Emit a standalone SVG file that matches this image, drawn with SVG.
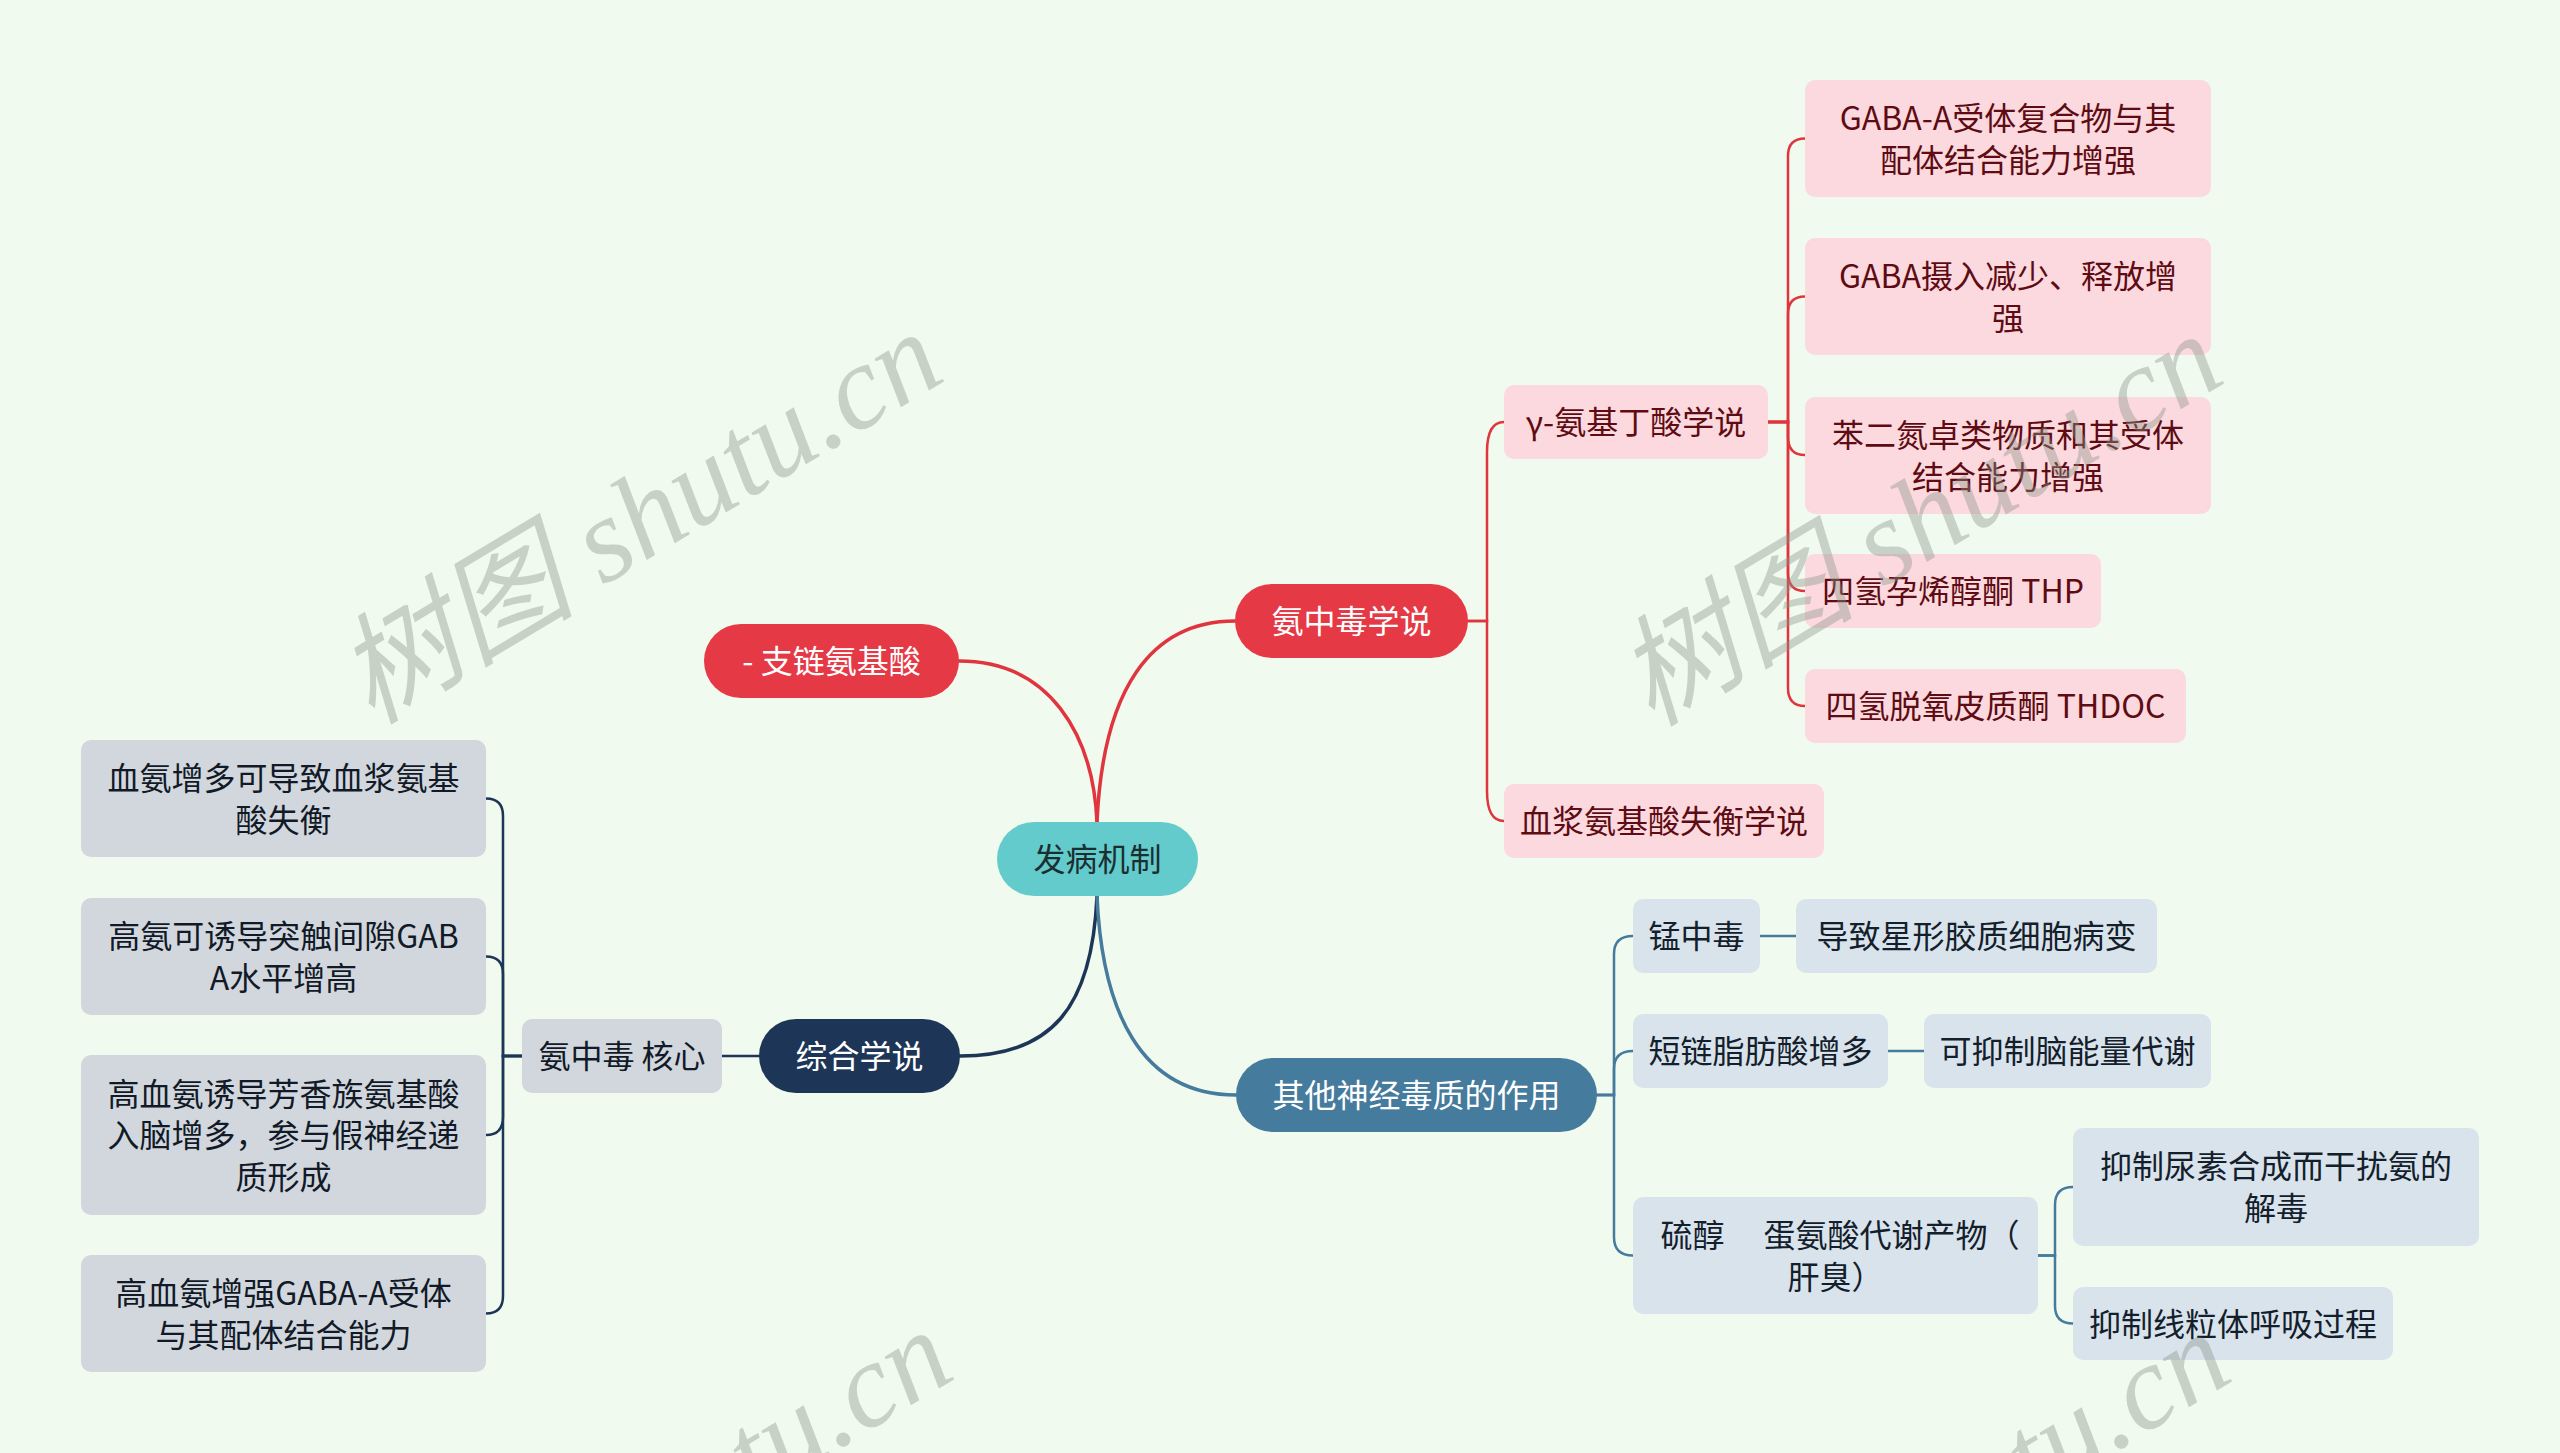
<svg xmlns="http://www.w3.org/2000/svg" width="2560" height="1453" viewBox="0 0 2560 1453">
<style>
text{font-family:"Noto Sans CJK SC","Microsoft YaHei",sans-serif;font-size:32px;text-anchor:middle}
.main rect{rx:37px;ry:37px}
.red rect{fill:#e63946}.red text{fill:#ffffff}
.root rect{fill:#63cbcc}.root text{fill:#1c2f30}
.navy rect{fill:#1d3557}.navy text{fill:#ffffff}
.steel rect{fill:#457b9d}.steel text{fill:#ffffff}
.sub rect{rx:10px;ry:10px}
.pink rect{fill:#fbd9de}.pink text{fill:#5e0b13}
.gray rect{fill:#d2d7de}.gray text{fill:#111a26}
.blue rect{fill:#d9e3eb}.blue text{fill:#13202b}
.lk{fill:none;stroke-linecap:round}
.lr{stroke:#e0353f}.ln{stroke:#1d3557}.ls{stroke:#457b9d}
.w1{stroke-width:3.5}.w2{stroke-width:2.5}
.wm{font-family:"Liberation Serif","Noto Sans CJK SC",serif;font-size:120px;fill:#8a9488;fill-opacity:0.4;font-style:italic}
</style>
<rect width="2560" height="1453" fill="#f1faee"/>
<g id="connectors" class="lk">
<path class="lr w1" d="M1097,822 C1103,690 1150,621 1235,621"/>
<path class="lr w1" d="M959,661 C1050,661 1093,735 1097,822"/>
<path class="ln w1" d="M1097,896 C1092,1010 1050,1056 960,1056"/>
<path class="ls w1" d="M1097,896 C1102,1010 1140,1095 1236,1095"/>
<path class="lr w2" d="M1468,621 H1487 V452 Q1487,422 1504,422"/>
<path class="lr w2" d="M1468,621 H1487 V791 Q1487,821 1504,821"/>
<path class="lr w2" d="M1768,422 H1788 V156 Q1788,138.5 1805,138.5"/>
<path class="lr w2" d="M1768,422 H1788 V314 Q1788,296.5 1805,296.5"/>
<path class="lr w2" d="M1768,422 H1788 V437 Q1788,455 1805,455"/>
<path class="lr w2" d="M1768,422 H1788 V573 Q1788,591 1805,591"/>
<path class="lr w2" d="M1768,422 H1788 V688 Q1788,706 1805,706"/>
<path class="ln w2" d="M759,1056 H722"/>
<path class="ln w2" d="M522,1056 H503 V816 Q503,798.5 486,798.5"/>
<path class="ln w2" d="M522,1056 H503 V974 Q503,956.5 486,956.5"/>
<path class="ln w2" d="M522,1056 H503 V1117 Q503,1135 486,1135"/>
<path class="ln w2" d="M522,1056 H503 V1296 Q503,1313.5 486,1313.5"/>
<path class="ls w2" d="M1597,1095 H1614 V954 Q1614,936 1633,936"/>
<path class="ls w2" d="M1597,1095 H1614 V1069 Q1614,1051 1633,1051"/>
<path class="ls w2" d="M1597,1095 H1614 V1237 Q1614,1255.5 1633,1255.5"/>
<path class="ls w2" d="M1760,936 H1796"/>
<path class="ls w2" d="M1888,1051 H1924"/>
<path class="ls w2" d="M2038,1255.5 H2055 V1205 Q2055,1187 2073,1187"/>
<path class="ls w2" d="M2038,1255.5 H2055 V1306 Q2055,1323.5 2073,1323.5"/>
</g>
<g id="root" class="main root"><rect x="997" y="822" width="201" height="74"/><text x="1097.5" y="871">发病机制</text></g>
<g id="n-zhilian" class="main red"><rect x="704" y="624" width="255" height="74"/><text x="831.5" y="673">- 支链氨基酸</text></g>
<g id="n-anzhongdu" class="main red"><rect x="1235" y="584" width="233" height="74"/><text x="1351.5" y="633">氨中毒学说</text></g>
<g id="n-zonghe" class="main navy"><rect x="759" y="1019" width="201" height="74"/><text x="859.5" y="1068">综合学说</text></g>
<g id="n-qita" class="main steel"><rect x="1236" y="1058" width="361" height="74"/><text x="1416.5" y="1107">其他神经毒质的作用</text></g>
<g id="p-gaba" class="sub pink"><rect x="1504" y="385" width="264" height="74"/><text x="1636" y="434">γ-氨基丁酸学说</text></g>
<g id="p-xuejiang" class="sub pink"><rect x="1504" y="784" width="320" height="74"/><text x="1664" y="833">血浆氨基酸失衡学说</text></g>
<g id="p-1" class="sub pink"><rect x="1805" y="80" width="406" height="117"/><text x="2008" y="129.5">GABA-A受体复合物与其</text><text x="2008" y="171.5">配体结合能力增强</text></g>
<g id="p-2" class="sub pink"><rect x="1805" y="238" width="406" height="117"/><text x="2008" y="287.5">GABA摄入减少、释放增</text><text x="2008" y="329.5">强</text></g>
<g id="p-3" class="sub pink"><rect x="1805" y="397" width="406" height="117"/><text x="2008" y="446.5">苯二氮卓类物质和其受体</text><text x="2008" y="488.5">结合能力增强</text></g>
<g id="p-4" class="sub pink"><rect x="1805" y="554" width="296" height="74"/><text x="1953" y="603">四氢孕烯醇酮 THP</text></g>
<g id="p-5" class="sub pink"><rect x="1805" y="669" width="381" height="74"/><text x="1995.5" y="718">四氢脱氧皮质酮 THDOC</text></g>
<g id="g-hexin" class="sub gray"><rect x="522" y="1019" width="200" height="74"/><text x="622" y="1068">氨中毒 核心</text></g>
<g id="g-1" class="sub gray"><rect x="81" y="740" width="405" height="117"/><text x="283.5" y="789.5">血氨增多可导致血浆氨基</text><text x="283.5" y="831.5">酸失衡</text></g>
<g id="g-2" class="sub gray"><rect x="81" y="898" width="405" height="117"/><text x="283.5" y="947.5">高氨可诱导突触间隙GAB</text><text x="283.5" y="989.5">A水平增高</text></g>
<g id="g-3" class="sub gray"><rect x="81" y="1055" width="405" height="160"/><text x="283.5" y="1105.5">高血氨诱导芳香族氨基酸</text><text x="283.5" y="1147">入脑增多，参与假神经递</text><text x="283.5" y="1189">质形成</text></g>
<g id="g-4" class="sub gray"><rect x="81" y="1255" width="405" height="117"/><text x="283.5" y="1304.5">高血氨增强GABA-A受体</text><text x="283.5" y="1346.5">与其配体结合能力</text></g>
<g id="b-meng" class="sub blue"><rect x="1633" y="899" width="127" height="74"/><text x="1696.5" y="948">锰中毒</text></g>
<g id="b-meng1" class="sub blue"><rect x="1796" y="899" width="361" height="74"/><text x="1976.5" y="948">导致星形胶质细胞病变</text></g>
<g id="b-duan" class="sub blue"><rect x="1633" y="1014" width="255" height="74"/><text x="1760.5" y="1063">短链脂肪酸增多</text></g>
<g id="b-duan1" class="sub blue"><rect x="1924" y="1014" width="287" height="74"/><text x="2067.5" y="1063">可抑制脑能量代谢</text></g>
<g id="b-liuchun" class="sub blue"><rect x="1633" y="1197" width="405" height="117"/><text x="1840" y="1246.5" xml:space="preserve">硫醇　 蛋氨酸代谢产物（</text><text x="1835.5" y="1288.5">肝臭）</text></g>
<g id="b-l1" class="sub blue"><rect x="2073" y="1128" width="406" height="118"/><text x="2276" y="1178">抑制尿素合成而干扰氨的</text><text x="2276" y="1220">解毒</text></g>
<g id="b-l2" class="sub blue"><rect x="2073" y="1287" width="320" height="73"/><text x="2233" y="1335.5">抑制线粒体呼吸过程</text></g>
<g id="watermark">
<text class="wm" transform="translate(660,552) rotate(-31)">树图 shutu.cn</text>
<text class="wm" transform="translate(1940,554) rotate(-31)">树图 shutu.cn</text>
<text class="wm" transform="translate(670,1550) rotate(-31)">树图 shutu.cn</text>
<text class="wm" transform="translate(1948,1552) rotate(-31)">树图 shutu.cn</text>
</g>
</svg>
